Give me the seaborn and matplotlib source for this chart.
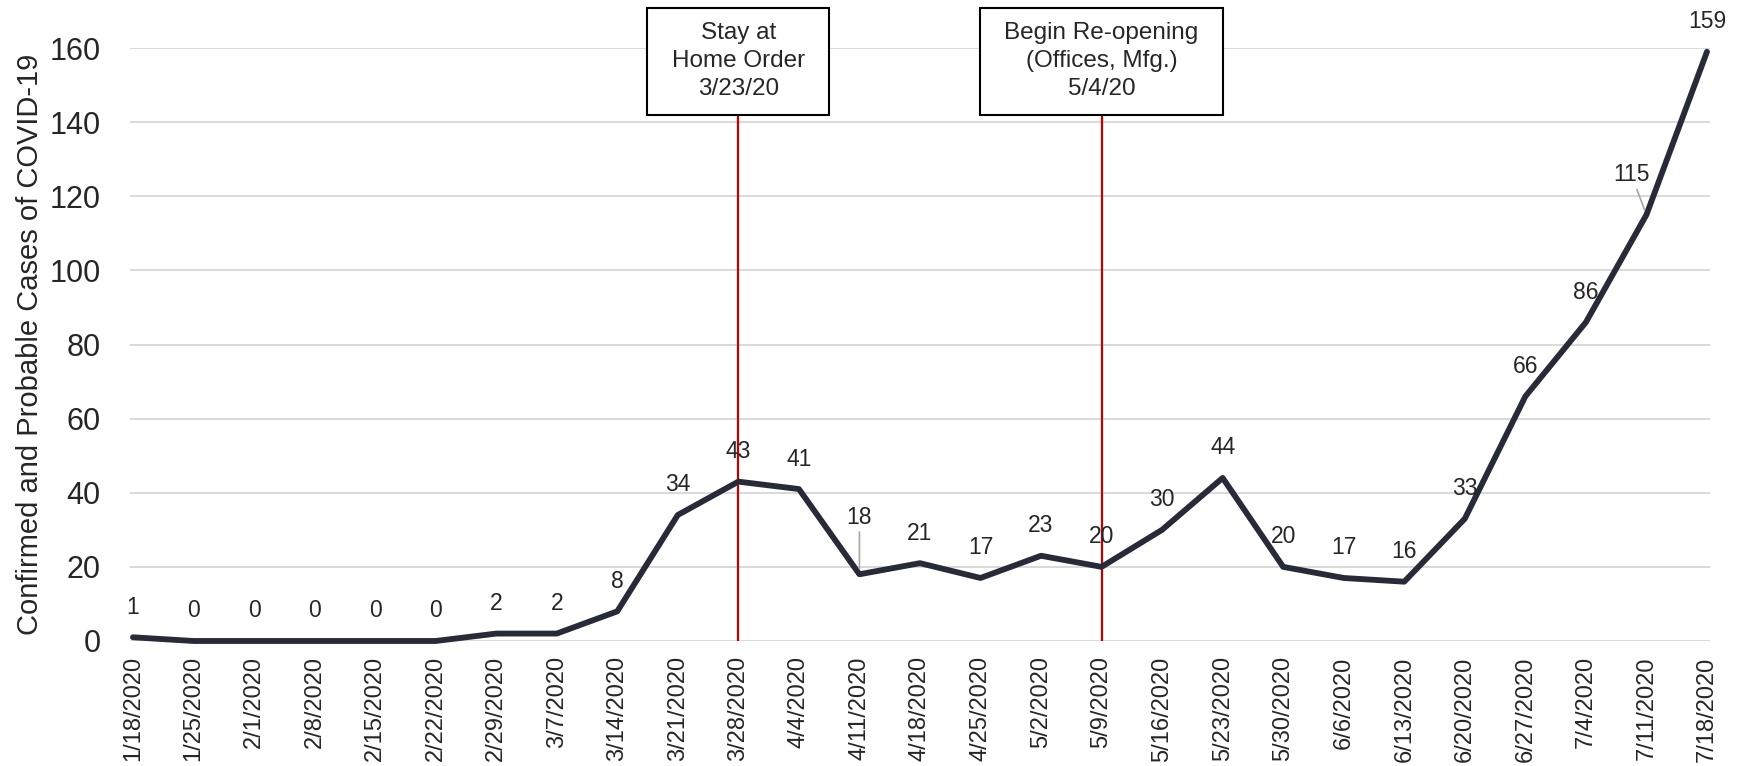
import matplotlib
matplotlib.use("Agg")
import matplotlib.pyplot as plt
import seaborn as sns
import numpy as np
from matplotlib.path import Path

# weekly data
weeks = ["1/18/2020", "1/25/2020", "2/1/2020", "2/8/2020", "2/15/2020", "2/22/2020",
         "2/29/2020", "3/7/2020", "3/14/2020", "3/21/2020", "3/28/2020", "4/4/2020",
         "4/11/2020", "4/18/2020", "4/25/2020", "5/2/2020", "5/9/2020", "5/16/2020",
         "5/23/2020", "5/30/2020", "6/6/2020", "6/13/2020", "6/20/2020", "6/27/2020",
         "7/4/2020", "7/11/2020", "7/18/2020"]
cases = [1, 0, 0, 0, 0, 0, 2, 2, 8, 34, 43, 41, 18, 21, 17, 23, 20, 30, 44, 20,
         17, 16, 33, 66, 86, 115, 159]

event_weeks = ["3/28/2020", "5/9/2020"]
event_texts = ["Stay at\nHome Order\n3/23/20", "Begin Re-opening\n(Offices, Mfg.)\n5/4/20"]
event_line_top = 142
event_box_y = 156.4

# labels that were moved off the line (with leader lines)
moved_labels = {"4/11/2020": (0, 57), "7/11/2020": (-15, 40)}


def event_box(x0, y0, width, height, mutation_size):
    # wider padding left/right than top/bottom
    px, py = 1.0 * mutation_size, 0.6 * mutation_size
    x0, y0 = x0 - px, y0 - py
    x1, y1 = x0 + width + 2 * px, y0 + height + 2 * py
    return Path([(x0, y0), (x1, y0), (x1, y1), (x0, y1), (x0, y0)], closed=True)


sns.set_style("white")
plt.rcParams['font.family'] = ['Liberation Sans', 'DejaVu Sans']

fig = plt.figure(figsize=(17.44, 7.66), dpi=100)
ax = fig.add_axes([0.0745, 0.1632, 0.906, 0.7741])

x = np.arange(len(weeks))
sns.lineplot(x=x, y=cases, ax=ax, color="#272B38", linewidth=4.2)
ax.lines[0].set_clip_on(False)

ax.set_xlim(-0.05, len(weeks) - 1 + 0.05)
ax.set_ylim(0, 160)
ax.set_yticks(range(0, 161, 20))
ax.set_xticks(x)
ax.set_xticklabels(weeks, rotation=90)
ax.grid(axis='y', color='#D9D9D9', linewidth=1.4)
ax.set_axisbelow(True)
for s in ax.spines.values():
    s.set_visible(False)
ax.tick_params(axis='y', length=0, labelsize=22, pad=21)
ax.tick_params(axis='x', length=0, labelsize=17, pad=11)

ax.set_xlabel("")
ax.set_ylabel("Confirmed and Probable Cases of COVID-19", fontsize=21)
ax.yaxis.set_label_coords(-0.0544, 0.5)

# event markers
for wk, txt in zip(event_weeks, event_texts):
    ex = weeks.index(wk)
    ax.vlines(ex, 0, event_line_top, color="#C00000", linewidth=1.6, zorder=1)
    ax.text(ex, event_box_y, txt, ha='center', va='center', fontsize=17.5,
            linespacing=1.35,
            bbox=dict(boxstyle=event_box, fc='white', ec='black', lw=1.5))

# data labels
for i, (wk, v) in enumerate(zip(weeks, cases)):
    dx, dy = moved_labels.get(wk, (0, 30))
    arrow = None
    if wk in moved_labels:
        arrow = dict(arrowstyle='-', color='#A6A6A6', lw=1.2, shrinkA=0, shrinkB=4)
    ax.annotate(str(v), (i, v), xytext=(dx, dy), textcoords='offset pixels',
                ha='center', va='center', fontsize=16.5, arrowprops=arrow,
                annotation_clip=False)

fig.savefig("out.png", dpi=100)
